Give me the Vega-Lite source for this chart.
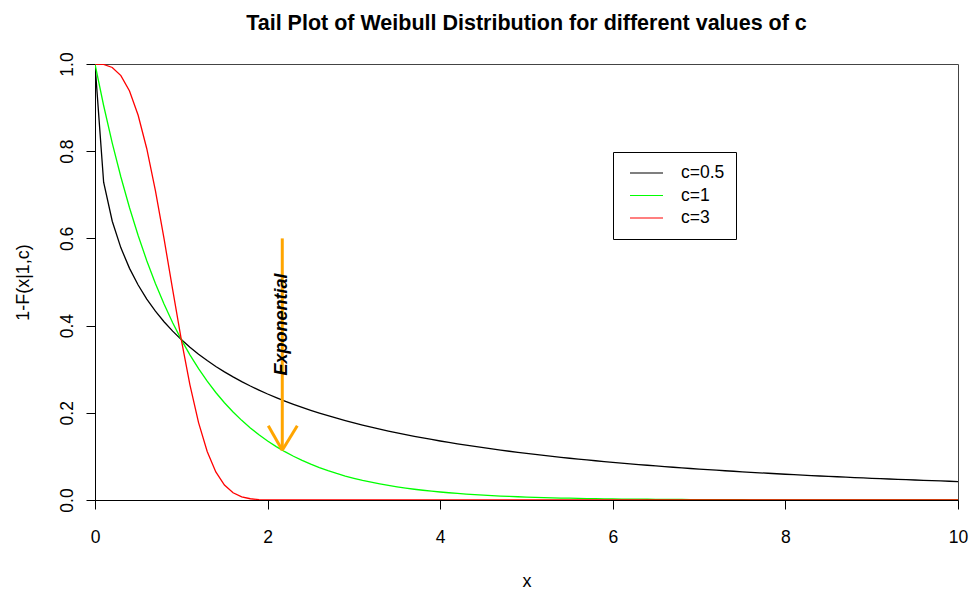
{
  "$schema": "https://vega.github.io/schema/vega-lite/v6.json",
  "width": 863,
  "height": 436,
  "autosize": {"type": "none"},
  "padding": {"left": 95, "top": 64, "right": 11, "bottom": 89},
  "background": "white",
  "config": {
    "font": "Liberation Sans",
    "view": {"stroke": "#444444", "strokeWidth": 1},
    "axis": {
      "grid": false,
      "domainColor": "#000000",
      "domainWidth": 1,
      "tickColor": "#000000",
      "tickSize": 9,
      "tickWidth": 1,
      "labelColor": "#000000",
      "labelFontSize": 17.5,
      "labelFlush": false,
      "labelOverlap": false,
      "titleColor": "#000000",
      "titleFontSize": 18,
      "titleFontWeight": "normal"
    }
  },
  "title": {
    "text": "Tail Plot of Weibull Distribution for different values of c",
    "fontSize": 21.5,
    "fontWeight": "bold",
    "color": "#000000",
    "anchor": "middle",
    "baseline": "alphabetic",
    "offset": 0
  },
  "layer": [
    {
      "data": {
        "values": [
          {"c": "c=0.5", "x": 0, "y": 1},
          {"c": "c=0.5", "x": 0.1, "y": 0.7289},
          {"c": "c=0.5", "x": 0.2, "y": 0.6394},
          {"c": "c=0.5", "x": 0.3, "y": 0.5783},
          {"c": "c=0.5", "x": 0.4, "y": 0.5313},
          {"c": "c=0.5", "x": 0.5, "y": 0.4931},
          {"c": "c=0.5", "x": 0.6, "y": 0.4609},
          {"c": "c=0.5", "x": 0.7, "y": 0.4332},
          {"c": "c=0.5", "x": 0.8, "y": 0.4088},
          {"c": "c=0.5", "x": 0.9, "y": 0.3873},
          {"c": "c=0.5", "x": 1, "y": 0.3679},
          {"c": "c=0.5", "x": 1.1, "y": 0.3504},
          {"c": "c=0.5", "x": 1.2, "y": 0.3344},
          {"c": "c=0.5", "x": 1.3, "y": 0.3198},
          {"c": "c=0.5", "x": 1.4, "y": 0.3063},
          {"c": "c=0.5", "x": 1.5, "y": 0.2938},
          {"c": "c=0.5", "x": 1.6, "y": 0.2823},
          {"c": "c=0.5", "x": 1.7, "y": 0.2715},
          {"c": "c=0.5", "x": 1.8, "y": 0.2614},
          {"c": "c=0.5", "x": 1.9, "y": 0.252},
          {"c": "c=0.5", "x": 2, "y": 0.2431},
          {"c": "c=0.5", "x": 2.1, "y": 0.2348},
          {"c": "c=0.5", "x": 2.2, "y": 0.2269},
          {"c": "c=0.5", "x": 2.3, "y": 0.2195},
          {"c": "c=0.5", "x": 2.4, "y": 0.2124},
          {"c": "c=0.5", "x": 2.5, "y": 0.2057},
          {"c": "c=0.5", "x": 2.6, "y": 0.1994},
          {"c": "c=0.5", "x": 2.7, "y": 0.1934},
          {"c": "c=0.5", "x": 2.8, "y": 0.1876},
          {"c": "c=0.5", "x": 2.9, "y": 0.1822},
          {"c": "c=0.5", "x": 3, "y": 0.1769},
          {"c": "c=0.5", "x": 3.1, "y": 0.1719},
          {"c": "c=0.5", "x": 3.2, "y": 0.1672},
          {"c": "c=0.5", "x": 3.3, "y": 0.1626},
          {"c": "c=0.5", "x": 3.4, "y": 0.1582},
          {"c": "c=0.5", "x": 3.5, "y": 0.154},
          {"c": "c=0.5", "x": 3.6, "y": 0.15},
          {"c": "c=0.5", "x": 3.7, "y": 0.1461},
          {"c": "c=0.5", "x": 3.8, "y": 0.1424},
          {"c": "c=0.5", "x": 3.9, "y": 0.1388},
          {"c": "c=0.5", "x": 4, "y": 0.1353},
          {"c": "c=0.5", "x": 4.1, "y": 0.132},
          {"c": "c=0.5", "x": 4.2, "y": 0.1288},
          {"c": "c=0.5", "x": 4.3, "y": 0.1257},
          {"c": "c=0.5", "x": 4.4, "y": 0.1228},
          {"c": "c=0.5", "x": 4.5, "y": 0.1199},
          {"c": "c=0.5", "x": 4.6, "y": 0.1171},
          {"c": "c=0.5", "x": 4.7, "y": 0.1144},
          {"c": "c=0.5", "x": 4.8, "y": 0.1118},
          {"c": "c=0.5", "x": 4.9, "y": 0.1093},
          {"c": "c=0.5", "x": 5, "y": 0.1069},
          {"c": "c=0.5", "x": 5.1, "y": 0.1045},
          {"c": "c=0.5", "x": 5.2, "y": 0.1023},
          {"c": "c=0.5", "x": 5.3, "y": 0.1},
          {"c": "c=0.5", "x": 5.4, "y": 0.0979},
          {"c": "c=0.5", "x": 5.5, "y": 0.0958},
          {"c": "c=0.5", "x": 5.6, "y": 0.0938},
          {"c": "c=0.5", "x": 5.7, "y": 0.0919},
          {"c": "c=0.5", "x": 5.8, "y": 0.09},
          {"c": "c=0.5", "x": 5.9, "y": 0.0881},
          {"c": "c=0.5", "x": 6, "y": 0.0863},
          {"c": "c=0.5", "x": 6.1, "y": 0.0846},
          {"c": "c=0.5", "x": 6.2, "y": 0.0829},
          {"c": "c=0.5", "x": 6.3, "y": 0.0813},
          {"c": "c=0.5", "x": 6.4, "y": 0.0797},
          {"c": "c=0.5", "x": 6.5, "y": 0.0781},
          {"c": "c=0.5", "x": 6.6, "y": 0.0766},
          {"c": "c=0.5", "x": 6.7, "y": 0.0751},
          {"c": "c=0.5", "x": 6.8, "y": 0.0737},
          {"c": "c=0.5", "x": 6.9, "y": 0.0723},
          {"c": "c=0.5", "x": 7, "y": 0.071},
          {"c": "c=0.5", "x": 7.1, "y": 0.0696},
          {"c": "c=0.5", "x": 7.2, "y": 0.0683},
          {"c": "c=0.5", "x": 7.3, "y": 0.0671},
          {"c": "c=0.5", "x": 7.4, "y": 0.0659},
          {"c": "c=0.5", "x": 7.5, "y": 0.0647},
          {"c": "c=0.5", "x": 7.6, "y": 0.0635},
          {"c": "c=0.5", "x": 7.7, "y": 0.0624},
          {"c": "c=0.5", "x": 7.8, "y": 0.0613},
          {"c": "c=0.5", "x": 7.9, "y": 0.0602},
          {"c": "c=0.5", "x": 8, "y": 0.0591},
          {"c": "c=0.5", "x": 8.1, "y": 0.0581},
          {"c": "c=0.5", "x": 8.2, "y": 0.0571},
          {"c": "c=0.5", "x": 8.3, "y": 0.0561},
          {"c": "c=0.5", "x": 8.4, "y": 0.0551},
          {"c": "c=0.5", "x": 8.5, "y": 0.0542},
          {"c": "c=0.5", "x": 8.6, "y": 0.0533},
          {"c": "c=0.5", "x": 8.7, "y": 0.0524},
          {"c": "c=0.5", "x": 8.8, "y": 0.0515},
          {"c": "c=0.5", "x": 8.9, "y": 0.0506},
          {"c": "c=0.5", "x": 9, "y": 0.0498},
          {"c": "c=0.5", "x": 9.1, "y": 0.049},
          {"c": "c=0.5", "x": 9.2, "y": 0.0482},
          {"c": "c=0.5", "x": 9.3, "y": 0.0474},
          {"c": "c=0.5", "x": 9.4, "y": 0.0466},
          {"c": "c=0.5", "x": 9.5, "y": 0.0459},
          {"c": "c=0.5", "x": 9.6, "y": 0.0451},
          {"c": "c=0.5", "x": 9.7, "y": 0.0444},
          {"c": "c=0.5", "x": 9.8, "y": 0.0437},
          {"c": "c=0.5", "x": 9.9, "y": 0.043},
          {"c": "c=0.5", "x": 10, "y": 0.0423},
          {"c": "c=1", "x": 0, "y": 1},
          {"c": "c=1", "x": 0.1, "y": 0.9048},
          {"c": "c=1", "x": 0.2, "y": 0.8187},
          {"c": "c=1", "x": 0.3, "y": 0.7408},
          {"c": "c=1", "x": 0.4, "y": 0.6703},
          {"c": "c=1", "x": 0.5, "y": 0.6065},
          {"c": "c=1", "x": 0.6, "y": 0.5488},
          {"c": "c=1", "x": 0.7, "y": 0.4966},
          {"c": "c=1", "x": 0.8, "y": 0.4493},
          {"c": "c=1", "x": 0.9, "y": 0.4066},
          {"c": "c=1", "x": 1, "y": 0.3679},
          {"c": "c=1", "x": 1.1, "y": 0.3329},
          {"c": "c=1", "x": 1.2, "y": 0.3012},
          {"c": "c=1", "x": 1.3, "y": 0.2725},
          {"c": "c=1", "x": 1.4, "y": 0.2466},
          {"c": "c=1", "x": 1.5, "y": 0.2231},
          {"c": "c=1", "x": 1.6, "y": 0.2019},
          {"c": "c=1", "x": 1.7, "y": 0.1827},
          {"c": "c=1", "x": 1.8, "y": 0.1653},
          {"c": "c=1", "x": 1.9, "y": 0.1496},
          {"c": "c=1", "x": 2, "y": 0.1353},
          {"c": "c=1", "x": 2.1, "y": 0.1225},
          {"c": "c=1", "x": 2.2, "y": 0.1108},
          {"c": "c=1", "x": 2.3, "y": 0.1003},
          {"c": "c=1", "x": 2.4, "y": 0.0907},
          {"c": "c=1", "x": 2.5, "y": 0.0821},
          {"c": "c=1", "x": 2.6, "y": 0.0743},
          {"c": "c=1", "x": 2.7, "y": 0.0672},
          {"c": "c=1", "x": 2.8, "y": 0.0608},
          {"c": "c=1", "x": 2.9, "y": 0.055},
          {"c": "c=1", "x": 3, "y": 0.0498},
          {"c": "c=1", "x": 3.1, "y": 0.045},
          {"c": "c=1", "x": 3.2, "y": 0.0408},
          {"c": "c=1", "x": 3.3, "y": 0.0369},
          {"c": "c=1", "x": 3.4, "y": 0.0334},
          {"c": "c=1", "x": 3.5, "y": 0.0302},
          {"c": "c=1", "x": 3.6, "y": 0.0273},
          {"c": "c=1", "x": 3.7, "y": 0.0247},
          {"c": "c=1", "x": 3.8, "y": 0.0224},
          {"c": "c=1", "x": 3.9, "y": 0.0202},
          {"c": "c=1", "x": 4, "y": 0.0183},
          {"c": "c=1", "x": 4.1, "y": 0.0166},
          {"c": "c=1", "x": 4.2, "y": 0.015},
          {"c": "c=1", "x": 4.3, "y": 0.0136},
          {"c": "c=1", "x": 4.4, "y": 0.0123},
          {"c": "c=1", "x": 4.5, "y": 0.0111},
          {"c": "c=1", "x": 4.6, "y": 0.0101},
          {"c": "c=1", "x": 4.7, "y": 0.0091},
          {"c": "c=1", "x": 4.8, "y": 0.0082},
          {"c": "c=1", "x": 4.9, "y": 0.0074},
          {"c": "c=1", "x": 5, "y": 0.0067},
          {"c": "c=1", "x": 5.1, "y": 0.0061},
          {"c": "c=1", "x": 5.2, "y": 0.0055},
          {"c": "c=1", "x": 5.3, "y": 0.005},
          {"c": "c=1", "x": 5.4, "y": 0.0045},
          {"c": "c=1", "x": 5.5, "y": 0.0041},
          {"c": "c=1", "x": 5.6, "y": 0.0037},
          {"c": "c=1", "x": 5.7, "y": 0.0033},
          {"c": "c=1", "x": 5.8, "y": 0.003},
          {"c": "c=1", "x": 5.9, "y": 0.0027},
          {"c": "c=1", "x": 6, "y": 0.0025},
          {"c": "c=1", "x": 6.1, "y": 0.0022},
          {"c": "c=1", "x": 6.2, "y": 0.002},
          {"c": "c=1", "x": 6.3, "y": 0.0018},
          {"c": "c=1", "x": 6.4, "y": 0.0017},
          {"c": "c=1", "x": 6.5, "y": 0.0015},
          {"c": "c=1", "x": 6.6, "y": 0.0014},
          {"c": "c=1", "x": 6.7, "y": 0.0012},
          {"c": "c=1", "x": 6.8, "y": 0.0011},
          {"c": "c=1", "x": 6.9, "y": 0.001},
          {"c": "c=1", "x": 7, "y": 0.0009},
          {"c": "c=1", "x": 7.1, "y": 0.0008},
          {"c": "c=1", "x": 7.2, "y": 0.0007},
          {"c": "c=1", "x": 7.3, "y": 0.0007},
          {"c": "c=1", "x": 7.4, "y": 0.0006},
          {"c": "c=1", "x": 7.5, "y": 0.0006},
          {"c": "c=1", "x": 7.6, "y": 0.0005},
          {"c": "c=1", "x": 7.7, "y": 0.0005},
          {"c": "c=1", "x": 7.8, "y": 0.0004},
          {"c": "c=1", "x": 7.9, "y": 0.0004},
          {"c": "c=1", "x": 8, "y": 0.0003},
          {"c": "c=1", "x": 8.1, "y": 0.0003},
          {"c": "c=1", "x": 8.2, "y": 0.0003},
          {"c": "c=1", "x": 8.3, "y": 0.0002},
          {"c": "c=1", "x": 8.4, "y": 0.0002},
          {"c": "c=1", "x": 8.5, "y": 0.0002},
          {"c": "c=1", "x": 8.6, "y": 0.0002},
          {"c": "c=1", "x": 8.7, "y": 0.0002},
          {"c": "c=1", "x": 8.8, "y": 0.00015},
          {"c": "c=1", "x": 8.9, "y": 0.00014},
          {"c": "c=1", "x": 9, "y": 0.00012},
          {"c": "c=1", "x": 9.1, "y": 0.00011},
          {"c": "c=1", "x": 9.2, "y": 0.0001},
          {"c": "c=1", "x": 9.3, "y": 0.00009},
          {"c": "c=1", "x": 9.4, "y": 0.00008},
          {"c": "c=1", "x": 9.5, "y": 0.00007},
          {"c": "c=1", "x": 9.6, "y": 0.00007},
          {"c": "c=1", "x": 9.7, "y": 0.00006},
          {"c": "c=1", "x": 9.8, "y": 0.00006},
          {"c": "c=1", "x": 9.9, "y": 0.00005},
          {"c": "c=1", "x": 10, "y": 0.00005},
          {"c": "c=3", "x": 0, "y": 1},
          {"c": "c=3", "x": 0.1, "y": 0.999},
          {"c": "c=3", "x": 0.2, "y": 0.992},
          {"c": "c=3", "x": 0.3, "y": 0.9734},
          {"c": "c=3", "x": 0.4, "y": 0.938},
          {"c": "c=3", "x": 0.5, "y": 0.8825},
          {"c": "c=3", "x": 0.6, "y": 0.8057},
          {"c": "c=3", "x": 0.7, "y": 0.7096},
          {"c": "c=3", "x": 0.8, "y": 0.5993},
          {"c": "c=3", "x": 0.9, "y": 0.4824},
          {"c": "c=3", "x": 1, "y": 0.3679},
          {"c": "c=3", "x": 1.1, "y": 0.2642},
          {"c": "c=3", "x": 1.2, "y": 0.1776},
          {"c": "c=3", "x": 1.3, "y": 0.1111},
          {"c": "c=3", "x": 1.4, "y": 0.0643},
          {"c": "c=3", "x": 1.5, "y": 0.0342},
          {"c": "c=3", "x": 1.6, "y": 0.0166},
          {"c": "c=3", "x": 1.7, "y": 0.0073},
          {"c": "c=3", "x": 1.8, "y": 0.0029},
          {"c": "c=3", "x": 1.9, "y": 0.001},
          {"c": "c=3", "x": 2, "y": 0.0003},
          {"c": "c=3", "x": 2.1, "y": 0.0001},
          {"c": "c=3", "x": 2.2, "y": 0},
          {"c": "c=3", "x": 2.3, "y": 0},
          {"c": "c=3", "x": 2.4, "y": 0},
          {"c": "c=3", "x": 2.5, "y": 0},
          {"c": "c=3", "x": 2.6, "y": 0},
          {"c": "c=3", "x": 2.7, "y": 0},
          {"c": "c=3", "x": 2.8, "y": 0},
          {"c": "c=3", "x": 2.9, "y": 0},
          {"c": "c=3", "x": 3, "y": 0},
          {"c": "c=3", "x": 3.1, "y": 0},
          {"c": "c=3", "x": 3.2, "y": 0},
          {"c": "c=3", "x": 3.3, "y": 0},
          {"c": "c=3", "x": 3.4, "y": 0},
          {"c": "c=3", "x": 3.5, "y": 0},
          {"c": "c=3", "x": 3.6, "y": 0},
          {"c": "c=3", "x": 3.7, "y": 0},
          {"c": "c=3", "x": 3.8, "y": 0},
          {"c": "c=3", "x": 3.9, "y": 0},
          {"c": "c=3", "x": 4, "y": 0},
          {"c": "c=3", "x": 4.1, "y": 0},
          {"c": "c=3", "x": 4.2, "y": 0},
          {"c": "c=3", "x": 4.3, "y": 0},
          {"c": "c=3", "x": 4.4, "y": 0},
          {"c": "c=3", "x": 4.5, "y": 0},
          {"c": "c=3", "x": 4.6, "y": 0},
          {"c": "c=3", "x": 4.7, "y": 0},
          {"c": "c=3", "x": 4.8, "y": 0},
          {"c": "c=3", "x": 4.9, "y": 0},
          {"c": "c=3", "x": 5, "y": 0},
          {"c": "c=3", "x": 5.1, "y": 0},
          {"c": "c=3", "x": 5.2, "y": 0},
          {"c": "c=3", "x": 5.3, "y": 0},
          {"c": "c=3", "x": 5.4, "y": 0},
          {"c": "c=3", "x": 5.5, "y": 0},
          {"c": "c=3", "x": 5.6, "y": 0},
          {"c": "c=3", "x": 5.7, "y": 0},
          {"c": "c=3", "x": 5.8, "y": 0},
          {"c": "c=3", "x": 5.9, "y": 0},
          {"c": "c=3", "x": 6, "y": 0},
          {"c": "c=3", "x": 6.1, "y": 0},
          {"c": "c=3", "x": 6.2, "y": 0},
          {"c": "c=3", "x": 6.3, "y": 0},
          {"c": "c=3", "x": 6.4, "y": 0},
          {"c": "c=3", "x": 6.5, "y": 0},
          {"c": "c=3", "x": 6.6, "y": 0},
          {"c": "c=3", "x": 6.7, "y": 0},
          {"c": "c=3", "x": 6.8, "y": 0},
          {"c": "c=3", "x": 6.9, "y": 0},
          {"c": "c=3", "x": 7, "y": 0},
          {"c": "c=3", "x": 7.1, "y": 0},
          {"c": "c=3", "x": 7.2, "y": 0},
          {"c": "c=3", "x": 7.3, "y": 0},
          {"c": "c=3", "x": 7.4, "y": 0},
          {"c": "c=3", "x": 7.5, "y": 0},
          {"c": "c=3", "x": 7.6, "y": 0},
          {"c": "c=3", "x": 7.7, "y": 0},
          {"c": "c=3", "x": 7.8, "y": 0},
          {"c": "c=3", "x": 7.9, "y": 0},
          {"c": "c=3", "x": 8, "y": 0},
          {"c": "c=3", "x": 8.1, "y": 0},
          {"c": "c=3", "x": 8.2, "y": 0},
          {"c": "c=3", "x": 8.3, "y": 0},
          {"c": "c=3", "x": 8.4, "y": 0},
          {"c": "c=3", "x": 8.5, "y": 0},
          {"c": "c=3", "x": 8.6, "y": 0},
          {"c": "c=3", "x": 8.7, "y": 0},
          {"c": "c=3", "x": 8.8, "y": 0},
          {"c": "c=3", "x": 8.9, "y": 0},
          {"c": "c=3", "x": 9, "y": 0},
          {"c": "c=3", "x": 9.1, "y": 0},
          {"c": "c=3", "x": 9.2, "y": 0},
          {"c": "c=3", "x": 9.3, "y": 0},
          {"c": "c=3", "x": 9.4, "y": 0},
          {"c": "c=3", "x": 9.5, "y": 0},
          {"c": "c=3", "x": 9.6, "y": 0},
          {"c": "c=3", "x": 9.7, "y": 0},
          {"c": "c=3", "x": 9.8, "y": 0},
          {"c": "c=3", "x": 9.9, "y": 0},
          {"c": "c=3", "x": 10, "y": 0}
        ]
      },
      "mark": {"type": "line", "strokeWidth": 1.3, "clip": true},
      "encoding": {
        "x": {
          "field": "x",
          "type": "quantitative",
          "scale": {"domain": [0, 10], "nice": false, "zero": false},
          "axis": {
            "values": [0, 2, 4, 6, 8, 10],
            "format": "d",
            "labelBaseline": "alphabetic",
            "labelPadding": 33,
            "title": "x",
            "titleBaseline": "alphabetic",
            "titleAnchor": "middle",
            "titleX": 431.5,
            "titleY": 86
          }
        },
        "y": {
          "field": "y",
          "type": "quantitative",
          "scale": {"domain": [0, 1], "nice": false},
          "axis": {
            "values": [0, 0.2, 0.4, 0.6, 0.8, 1],
            "format": ".1f",
            "labelAngle": -90,
            "labelAlign": "center",
            "labelBaseline": "alphabetic",
            "labelPadding": 14,
            "title": "1-F(x|1,c)",
            "titleAngle": 270,
            "titleAlign": "center",
            "titleBaseline": "alphabetic",
            "titleX": -66.5,
            "titleY": 218
          }
        },
        "color": {
          "field": "c",
          "type": "nominal",
          "scale": {"domain": ["c=0.5", "c=1", "c=3"], "range": ["#000000", "#00ff00", "#ff0000"]},
          "legend": {
            "title": null,
            "orient": "none",
            "legendX": 518,
            "legendY": 88,
            "direction": "vertical",
            "padding": 11,
            "strokeColor": "#000000",
            "fillColor": "#ffffff",
            "cornerRadius": 0,
            "symbolType": "stroke",
            "symbolSize": 1089,
            "symbolStrokeWidth": 1.2,
            "symbolOffset": 5,
            "clipHeight": 20,
            "rowPadding": 2.5,
            "labelOffset": 17,
            "labelFontSize": 17.5,
            "labelColor": "#000000"
          }
        }
      }
    },
    {
      "data": {
        "values": [
          {"x": 2.17, "y": 0.6, "x2": 2.17, "y2": 0.1142},
          {"x": 2.008, "y": 0.1704, "x2": 2.17, "y2": 0.1142},
          {"x": 2.344, "y": 0.1704, "x2": 2.17, "y2": 0.1142}
        ]
      },
      "mark": {"type": "rule", "color": "#ffa500", "strokeWidth": 3, "strokeCap": "butt"},
      "encoding": {
        "x": {"field": "x", "type": "quantitative"},
        "y": {"field": "y", "type": "quantitative"},
        "x2": {"field": "x2"},
        "y2": {"field": "y2"}
      }
    },
    {
      "data": {"values": [{"x": 2.17, "y": 0.4025, "label": "Exponential"}]},
      "mark": {
        "type": "text",
        "angle": 270,
        "align": "center",
        "baseline": "middle",
        "fontSize": 18,
        "fontStyle": "italic",
        "fontWeight": "bold",
        "color": "#000000"
      },
      "encoding": {
        "x": {"field": "x", "type": "quantitative"},
        "y": {"field": "y", "type": "quantitative"},
        "text": {"field": "label"}
      }
    }
  ]
}
